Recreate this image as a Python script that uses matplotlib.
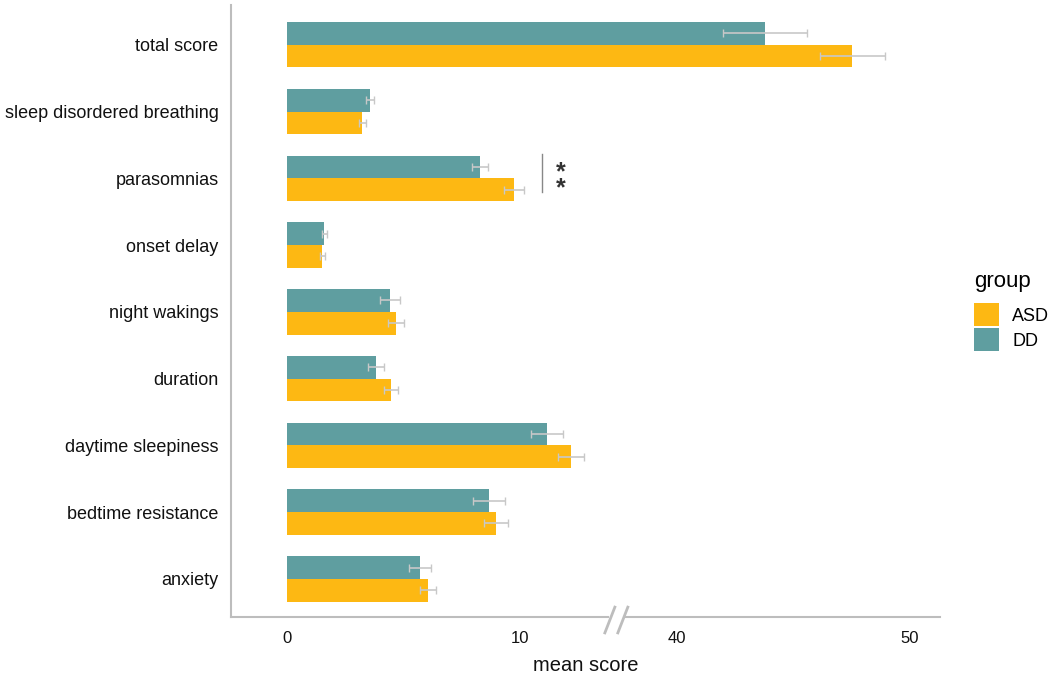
import numpy as np
import matplotlib.pyplot as plt

plt.rcParams['font.family'] = ['Liberation Sans', 'DejaVu Sans']

# data (bottom to top)
categories = ['anxiety', 'bedtime resistance', 'daytime sleepiness', 'duration',
              'night wakings', 'onset delay', 'parasomnias',
              'sleep disordered breathing', 'total score']
asd_mean = [6.05, 8.97, 12.19, 4.46, 4.68, 1.50, 9.74, 3.22, 47.55]
asd_err = [0.34, 0.50, 0.55, 0.30, 0.35, 0.10, 0.43, 0.15, 1.40]
dd_mean = [5.71, 8.67, 11.16, 3.82, 4.42, 1.59, 8.28, 3.56, 43.80]
dd_err = [0.47, 0.69, 0.70, 0.34, 0.43, 0.10, 0.35, 0.17, 1.80]

asd_color = '#FDB813'
dd_color = '#5F9EA0'
err_color = '#C8C8C8'
axis_color = '#BDBDBD'

# broken x axis: 0-14 shown as is, 37.5+ shifted left
lo, hi, shift = 14.0, 37.5, 23.26


def forward(v):
    v = np.asarray(v, dtype=float)
    gap = lo + (v - lo) * ((hi - shift) - lo) / (hi - lo)
    return np.where(v <= lo, v, np.where(v >= hi, v - shift, gap))


def inverse(u):
    u = np.asarray(u, dtype=float)
    top = hi - shift
    gap = lo + (u - lo) * (hi - lo) / (top - lo)
    return np.where(u <= lo, u, np.where(u >= top, u + shift, gap))


fig = plt.figure(figsize=(10.5, 6.75), dpi=100)
ax = fig.add_axes([0.22, 0.086, 0.675, 0.907])
ax.set_xscale('function', functions=(forward, inverse))

y = np.arange(len(categories))
w = 0.34
ax.barh(y + w / 2, dd_mean, height=w, color=dd_color, label='DD')
ax.barh(y - w / 2, asd_mean, height=w, color=asd_color, label='ASD')
ax.errorbar(dd_mean, y + w / 2, xerr=dd_err, fmt='none', ecolor=err_color,
            elinewidth=1.2, capsize=3)
ax.errorbar(asd_mean, y - w / 2, xerr=asd_err, fmt='none', ecolor=err_color,
            elinewidth=1.2, capsize=3)

ax.set_xlim(-2.42, 51.3)
ax.set_ylim(-0.57, 8.6)
ax.set_xticks([0, 10, 40, 50])
ax.set_yticks(y)
ax.set_yticklabels(categories)
ax.tick_params(axis='both', length=0, colors='#111111')
ax.tick_params(axis='x', pad=10, labelsize=12)
ax.tick_params(axis='y', pad=9, labelsize=13)
ax.set_xlabel('mean score', fontsize=14.5, color='#111111', labelpad=7)

# significance marker for parasomnias
ip = categories.index('parasomnias')
ax.plot([10.94, 10.94], [ip - 0.21, ip + 0.36], color='#888888', lw=1)
ax.text(11.75, ip - 0.03, '*\n*', ha='center', va='center', fontsize=18,
        fontweight='bold', linespacing=0.55, color='#333333')

# spines
for s in ['top', 'right', 'bottom']:
    ax.spines[s].set_visible(False)
ax.spines['left'].set_color(axis_color)
ax.spines['left'].set_linewidth(1.5)

# bottom axis line with break marks
ax.plot([0, 0.532], [0, 0], transform=ax.transAxes, color=axis_color,
        lw=1.5, clip_on=False)
ax.plot([0.556, 1], [0, 0], transform=ax.transAxes, color=axis_color,
        lw=1.5, clip_on=False)
for xb in [0.5275, 0.5458]:
    ax.plot([xb, xb + 0.0141], [-0.026, 0.016], transform=ax.transAxes,
            color=axis_color, lw=2, clip_on=False)

handles, labels = ax.get_legend_handles_labels()
leg = fig.legend(handles[::-1], labels[::-1], title='group', loc='center left',
                 bbox_to_anchor=(0.928, 0.539), frameon=False, fontsize=13,
                 title_fontsize=16, handlelength=1.35, handleheight=1.6,
                 handletextpad=0.75, labelspacing=0.1, borderpad=0,
                 borderaxespad=0)
leg._legend_box.align = 'left'
leg._legend_box.sep = 8

fig.savefig('out.png', dpi=100)
